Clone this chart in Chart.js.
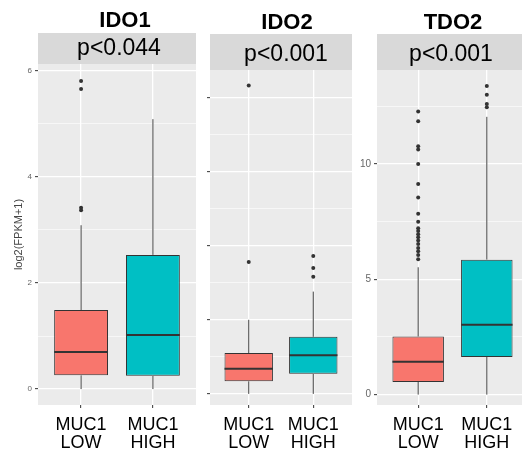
<!DOCTYPE html>
<html lang="en">
<head>
    <meta charset="UTF-8">
    <script src="https://cdn.jsdelivr.net/npm/chart.js@4.4.1/dist/chart.umd.min.js"></script>
    <title>IDO1 / IDO2 / TDO2 by MUC1</title>
    <style>
        html, body {
            margin: 0;
            padding: 0;
            background: #fff;
            overflow: hidden;
        }

        #wrap {
            position: relative;
            width: 522px;
            height: 455px;
            overflow: hidden;
        }

        canvas {
            position: absolute;
            top: 0;
        }
    </style>
</head>

<body>
    <div id="wrap">
        <canvas id="ido1" width="200" height="455" style="left:0px"></canvas>
        <canvas id="ido2" width="166" height="455" style="left:190px"></canvas>
        <canvas id="tdo2" width="182" height="455" style="left:350px"></canvas>
    </div>
    <script>
        const groups = [['MUC1', 'LOW'], ['MUC1', 'HIGH']];

        // IDO1
        const ido1Lower = [0, 0];
        const ido1Q1 = [0.26, 0.25];
        const ido1Median = [0.70, 1.02];
        const ido1Q3 = [1.49, 2.53];
        const ido1Upper = [3.09, 5.09];
        const ido1OutLow = [3.37, 3.42, 5.66, 5.81];
        const ido1OutHigh = [];
        const ido1Ticks = [0, 2, 4, 6];
        const ido1MinorTicks = [1, 3, 5];

        // IDO2 (tick labels are cut off in the original)
        const ido2Lower = [0, 0];
        const ido2Q1 = [0.17, 0.27];
        const ido2Median = [0.34, 0.52];
        const ido2Q3 = [0.55, 0.77];
        const ido2Upper = [1.00, 1.38];
        const ido2OutLow = [1.78, 4.16];
        const ido2OutHigh = [1.58, 1.70, 1.86];
        const ido2Ticks = [0, 1, 2, 3, 4];
        const ido2MinorTicks = [0.5, 1.5, 2.5, 3.5];

        // TDO2
        const tdo2Lower = [0, 0];
        const tdo2Q1 = [0.55, 1.63];
        const tdo2Median = [1.42, 3.03];
        const tdo2Q3 = [2.52, 5.85];
        const tdo2Upper = [5.52, 12.04];
        const tdo2OutLow = [5.87, 6.05, 6.21, 6.36, 6.53, 6.68, 6.82, 6.95, 7.09, 7.21, 7.49, 7.84, 8.54, 9.13, 10.0, 10.62, 10.76, 11.85, 12.27];
        const tdo2OutHigh = [12.46, 12.6, 13.0, 13.38];
        const tdo2Ticks = [0, 5, 10];
        const tdo2MinorTicks = [2.5, 7.5, 12.5];

        const FONT = '"Liberation Sans", Arial, Helvetica, sans-serif';
        const BOX_HALF = 0.375; // ggplot default box width 0.75
        const fills = ['#F8766D', '#00BFC4'];

        // grey strip + panel background + facet texts
        const panelBg = {
            id: 'panelBg',
            beforeDraw(chart, args, opts) {
                const { ctx, chartArea: a } = chart;
                ctx.save();
                ctx.fillStyle = '#d9d9d9';
                ctx.fillRect(a.left, opts.stripTop, a.right - a.left, a.top - opts.stripTop);
                ctx.fillStyle = '#ebebeb';
                ctx.fillRect(a.left, a.top, a.right - a.left, a.bottom - a.top);
                ctx.fillStyle = '#000';
                ctx.textAlign = 'center';
                ctx.textBaseline = 'middle';
                ctx.font = 'bold 22px ' + FONT;
                ctx.fillText(opts.title, opts.titleX, opts.titleY);
                ctx.font = '23px ' + FONT;
                ctx.fillText(opts.label, opts.labelX, opts.labelY);
                ctx.restore();
            }
        };

        function boxDatasets(s) {
            const xs = [1, 2];
            const whiskers = [], medians = [], outliers = [];
            xs.forEach((x, i) => {
                whiskers.push({ x, y: s.lower[i] }, { x, y: s.q1[i] }, { x, y: null },
                              { x, y: s.q3[i] }, { x, y: s.upper[i] }, { x, y: null });
                medians.push({ x: x - BOX_HALF, y: s.median[i] }, { x: x + BOX_HALF, y: s.median[i] }, { x, y: null });
            });
            s.outLow.forEach(v => outliers.push({ x: 1, y: v }));
            s.outHigh.forEach(v => outliers.push({ x: 2, y: v }));

            return [
                {
                    type: 'line', data: medians, order: 0,
                    borderColor: '#333', borderWidth: 2, pointRadius: 0, tension: 0, spanGaps: false
                },
                {
                    type: 'scatter', data: outliers, order: 0,
                    pointRadius: 2, backgroundColor: '#333', borderWidth: 0
                },
                {
                    type: 'bar', data: xs.map((x, i) => ({ x, y: [s.q1[i], s.q3[i]] })), order: 1,
                    backgroundColor: fills, borderColor: '#333', borderWidth: 1, borderSkipped: false,
                    barPercentage: 0.75, categoryPercentage: 1
                },
                {
                    type: 'line', data: whiskers, order: 2,
                    borderColor: '#444', borderWidth: 1, pointRadius: 0, tension: 0, spanGaps: false
                }
            ];
        }

        function createPanel(p) {
            const major = p.ticks;
            const allTicks = p.ticks.concat(p.minor).sort((a, b) => a - b);
            const isMajor = v => major.includes(v);

            new Chart(document.getElementById(p.id), {
                type: 'bar',
                data: { datasets: boxDatasets(p.stats) },
                plugins: [panelBg],
                options: {
                    responsive: false,
                    animation: false,
                    layout: { padding: { top: p.top, left: 0, right: 0, bottom: 0 } },
                    scales: {
                        x: {
                            type: 'linear',
                            min: 0.4,
                            max: 2.6,
                            offset: false,
                            afterBuildTicks: s => { s.ticks = [1, 2].map(v => ({ value: v })); },
                            afterFit: s => { s.height = 50; },
                            ticks: {
                                callback: v => groups[v - 1],
                                color: '#000',
                                font: { family: FONT, size: 18, lineHeight: 1 },
                                padding: 8,
                                maxRotation: 0,
                                autoSkip: false
                            },
                            grid: { offset: false, color: '#fff', lineWidth: 1.3, tickColor: '#333', tickLength: 3, tickWidth: 1 },
                            border: { display: false }
                        },
                        y: {
                            min: p.range[0],
                            max: p.range[1],
                            afterBuildTicks: s => { s.ticks = allTicks.map(v => ({ value: v })); },
                            afterFit: s => { s.width = p.yWidth; },
                            ticks: {
                                callback: v => (p.showLabels && isMajor(v)) ? String(v) : '',
                                color: '#666',
                                font: { family: FONT, size: p.tickSize },
                                padding: 3,
                                autoSkip: false
                            },
                            grid: {
                                color: '#fff',
                                lineWidth: c => isMajor(c.tick.value) ? 1.3 : 0.6,
                                tickColor: c => isMajor(c.tick.value) ? '#333' : 'rgba(0,0,0,0)',
                                tickLength: 3,
                                tickWidth: 1
                            },
                            border: { display: false },
                            title: {
                                display: !!p.yTitle,
                                text: p.yTitle,
                                color: '#444',
                                font: { family: FONT, size: 11 },
                                padding: { top: 12.4, bottom: 0 }
                            }
                        }
                    },
                    plugins: {
                        legend: { display: false },
                        tooltip: { enabled: false },
                        panelBg: {
                            stripTop: p.stripTop,
                            title: p.gene, titleX: p.titleX, titleY: p.titleY,
                            label: p.pValue, labelX: p.labelX, labelY: p.labelY
                        }
                    }
                }
            });
        }

        createPanel({
            id: 'ido1', gene: 'IDO1', pValue: 'p<0.044',
            stats: { lower: ido1Lower, q1: ido1Q1, median: ido1Median, q3: ido1Q3, upper: ido1Upper, outLow: ido1OutLow, outHigh: ido1OutHigh },
            ticks: ido1Ticks, minor: ido1MinorTicks, range: [-0.3, 6.13], showLabels: true, tickSize: 8,
            yTitle: 'log2(FPKM+1)', yWidth: 38, top: 64, stripTop: 33,
            titleX: 125, titleY: 21, labelX: 119, labelY: 49
        });

        createPanel({
            id: 'ido2', gene: 'IDO2', pValue: 'p<0.001',
            stats: { lower: ido2Lower, q1: ido2Q1, median: ido2Median, q3: ido2Q3, upper: ido2Upper, outLow: ido2OutLow, outHigh: ido2OutHigh },
            ticks: ido2Ticks, minor: ido2MinorTicks, range: [-0.15, 4.37], showLabels: false, tickSize: 9,
            yTitle: '', yWidth: 20, top: 70, stripTop: 34,
            titleX: 97, titleY: 23.3, labelX: 96, labelY: 55
        });

        createPanel({
            id: 'tdo2', gene: 'TDO2', pValue: 'p<0.001',
            stats: { lower: tdo2Lower, q1: tdo2Q1, median: tdo2Median, q3: tdo2Q3, upper: tdo2Upper, outLow: tdo2OutLow, outHigh: tdo2OutHigh },
            ticks: tdo2Ticks, minor: tdo2MinorTicks, range: [-0.45, 14.07], showLabels: true, tickSize: 10,
            yTitle: '', yWidth: 27, top: 70, stripTop: 34,
            titleX: 103, titleY: 23.3, labelX: 101, labelY: 55
        });
    </script>
</body>
</html>
